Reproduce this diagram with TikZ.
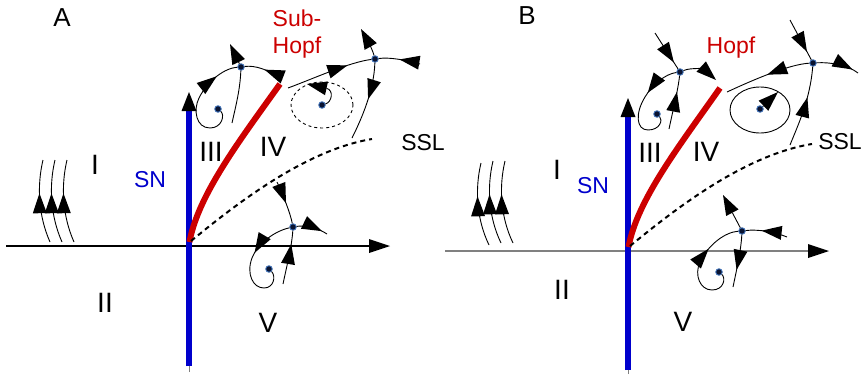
\documentclass[tikz,border=0pt]{standalone}
\usepackage{fontspec}
\setmainfont{Liberation Sans}
\usetikzlibrary{arrows.meta,decorations.markings}
\definecolor{snblue}{RGB}{0,0,204}
\definecolor{hopfred}{RGB}{204,0,0}
\definecolor{axisgrey}{RGB}{128,128,128}
\definecolor{ptnavy}{RGB}{10,20,50}
\definecolor{ptring}{RGB}{60,110,180}

\begin{document}
\begin{tikzpicture}[x=1pt,y=-1pt,
  every node/.style={font=\fontsize{23}{27}\selectfont},
  region/.style={font=\fontsize{28}{30}\selectfont},
  panel/.style={font=\fontsize{26}{28}\selectfont},
  fixpt/.style={circle,fill=ptnavy,draw=ptring,line width=0.9pt,inner sep=0pt,minimum size=6.5pt},
  traj/.style={line width=0.9pt},
  tip/.style={-{Triangle[length=20pt,width=14pt,line width=0pt]}},
  midarr/.style={postaction={decorate},decoration={markings,mark=at position #1 with {\arrow{Triangle[length=20pt,width=14pt,line width=0pt]}}}},
  axisline/.style={line width=1.2pt,-{Triangle[length=21pt,width=14pt,line width=0pt,color=black]}},
  snline/.style={snblue,line width=6pt,-{Triangle[length=19pt,width=15pt,line width=0pt,color=black]}},
  hopfline/.style={hopfred,line width=6pt},
  ssl/.style={line width=2pt,dash pattern=on 5pt off 4pt},
  cycdash/.style={line width=0.9pt,dash pattern=on 3pt off 3pt}]
\useasboundingbox (0,0) rectangle (866,375);

% panel A
\draw[axisgrey,line width=1pt] (189,372) -- (189,240);
\draw[axisline] (6,246) -- (390,246);
\draw[snline] (189,366) -- (189,92);
\draw[hopfline] (189.5,242) .. controls (198,195) and (240,140) .. (280,84);
\draw[ssl] (191,241) .. controls (235,205) and (305,150) .. (372,139);

\node[panel] (labA) at (62,18) {A};
\node[region] (rIa) at (95,165) {I};
\node[text=snblue] (snA) at (150,180) {SN};
\node[region] (rIIIa) at (211,152) {III};
\node[region] (rIVa) at (273,147) {IV};
\node[region] (rIIa) at (105,303) {II};
\node[region] (rVa) at (268,323) {V};
\node[text=hopfred,align=center] (subhopf) at (297,34) {Sub-\\Hopf};
\node (sslA) at (423,143) {SSL};

\draw[traj,midarr=0.6] (50,242) .. controls (38,215) and (37,185) .. (43,160);
\draw[traj,midarr=0.6] (62,242) .. controls (50,215) and (49,185) .. (55,160);
\draw[traj,midarr=0.6] (74,242) .. controls (62,215) and (61,185) .. (67,160);

% III
\node[fixpt] (sadA3) at (241,67) {};
\node[fixpt] (focA3) at (218,109) {};
\coordinate (a3top) at (230,44);
\coordinate (a3bot) at (232,123);
\coordinate (a3rt) at (282,80);
\draw[traj,midarr=0.8] (focA3) .. controls (225,115) and (222,128) .. (210,128) .. controls (196,128) and (193,110) .. (199,98) .. controls (208,80) and (225,68) .. (sadA3);
\draw[traj,tip] (sadA3) -- (a3top);
\draw[traj] (sadA3) .. controls (240,90) and (236,105) .. (a3bot);
\draw[traj,midarr=0.5] (a3rt) .. controls (270,70) and (255,65) .. (sadA3);

% IV
\draw[cycdash] (322,105) ellipse [x radius=31pt, y radius=23pt];
\node[fixpt] (sadA4) at (375,59) {};
\node[fixpt] (focA4) at (322,105) {};
\coordinate (a4lf) at (288,88);
\coordinate (a4rt) at (420,64);
\coordinate (a4top) at (361,29);
\coordinate (a4bot) at (352,138);
\coordinate (a4hk) at (307,84);
\draw[traj,midarr=0.72] (a4lf) .. controls (315,78) and (350,62) .. (sadA4);
\draw[traj,midarr=0.5] (a4rt) .. controls (405,60) and (390,57) .. (sadA4);
\draw[traj,tip] (sadA4) .. controls (372,48) and (366,38) .. (a4top);
\draw[traj,midarr=0.47] (sadA4) .. controls (374,90) and (362,118) .. (a4bot);
\draw[traj,tip] (focA4) .. controls (332,102) and (334,90) .. (a4hk);

% V
\node[fixpt] (sadA5) at (293,227) {};
\node[fixpt] (focA5) at (269,269) {};
\coordinate (a5top) at (277,182);
\coordinate (a5rt) at (327,234);
\coordinate (a5bot) at (283,284);
\draw[traj,midarr=0.52] (a5top) .. controls (283,195) and (290,212) .. (sadA5);
\draw[traj,midarr=0.82] (sadA5) .. controls (305,225) and (318,228) .. (a5rt);
\draw[traj,midarr=0.75] (a5bot) .. controls (287,265) and (292,245) .. (sadA5);
\draw[traj,midarr=0.4] (sadA5) .. controls (275,231) and (258,243) .. (252,258) .. controls (246,274) and (253,288) .. (264,288) .. controls (274,288) and (276,276) .. (focA5);

% panel B
\draw[axisgrey,line width=1pt] (628,374) -- (628,245);
\draw[axisline,axisgrey] (445,251) -- (829,251);
\draw[snline] (628,370) -- (628,98);
\draw[hopfline] (628.5,247) .. controls (637,200) and (680,145) .. (720,88);
\draw[ssl] (630,246) .. controls (674,210) and (744,155) .. (812,144);

\node[panel] (labB) at (527,16) {B};
\node[region] (rIb) at (557,170) {I};
\node[text=snblue] (snB) at (593,186) {SN};
\node[region] (rIIIb) at (650,153) {III};
\node[region] (rIVb) at (706,152) {IV};
\node[region] (rIIb) at (562,290) {II};
\node[region] (rVb) at (683,322) {V};
\node[text=hopfred] (hopf) at (731,48) {Hopf};
\node (sslB) at (840,142) {SSL};

\draw[traj,midarr=0.6] (489,245) .. controls (476,218) and (475,188) .. (481,163);
\draw[traj,midarr=0.6] (501,243) .. controls (488,216) and (487,186) .. (493,161);
\draw[traj,midarr=0.6] (513,243) .. controls (500,216) and (499,186) .. (505,161);

% III
\node[fixpt] (sadB3) at (680,72) {};
\node[fixpt] (focB3) at (657,114) {};
\coordinate (b3top) at (655,33);
\coordinate (b3rt) at (716,80);
\coordinate (b3bot) at (669,129);
\draw[traj,midarr=0.82] (b3top) -- (sadB3);
\draw[traj,tip] (sadB3) .. controls (692,67) and (705,70) .. (b3rt);
\draw[traj,midarr=0.7] (b3bot) .. controls (673,110) and (678,90) .. (sadB3);
\draw[traj,midarr=0.35] (sadB3) .. controls (665,74) and (652,85) .. (645,97) .. controls (635,113) and (636,130) .. (648,130) .. controls (660,130) and (663,120) .. (focB3);

% IV
\draw[traj] (760,110) ellipse [x radius=30pt, y radius=23pt];
\node[fixpt] (sadB4) at (813,63) {};
\node[fixpt] (focB4) at (760,109) {};
\coordinate (b4top) at (790,20);
\coordinate (b4rt) at (858,73);
\coordinate (b4lf) at (727,92);
\coordinate (b4bot) at (790,145);
\coordinate (b4hk) at (778,92);
\draw[traj,midarr=0.8] (b4top) -- (sadB4);
\draw[traj,midarr=0.85] (sadB4) .. controls (830,62) and (848,65) .. (b4rt);
\draw[traj,midarr=0.5] (sadB4) .. controls (795,64) and (770,72) .. (b4lf);
\draw[traj,midarr=0.62] (b4bot) .. controls (798,125) and (810,100) .. (sadB4);
\draw[traj,tip] (focB4) -- (b4hk);

% V
\node[fixpt] (sadB5) at (742,231) {};
\node[fixpt] (focB5) at (719,272) {};
\coordinate (b5top) at (723,195);
\coordinate (b5rt) at (787,237);
\coordinate (b5bot) at (733,287);
\draw[traj,tip] (sadB5) -- (b5top);
\draw[traj,midarr=0.62] (b5rt) .. controls (775,232) and (758,229) .. (sadB5);
\draw[traj,midarr=0.67] (sadB5) .. controls (741,250) and (737,268) .. (b5bot);
\draw[traj,midarr=0.68] (focB5) .. controls (726,278) and (724,290) .. (712,290) .. controls (700,290) and (694,275) .. (700,262) .. controls (708,245) and (725,232) .. (sadB5);
\end{tikzpicture}
\end{document}
